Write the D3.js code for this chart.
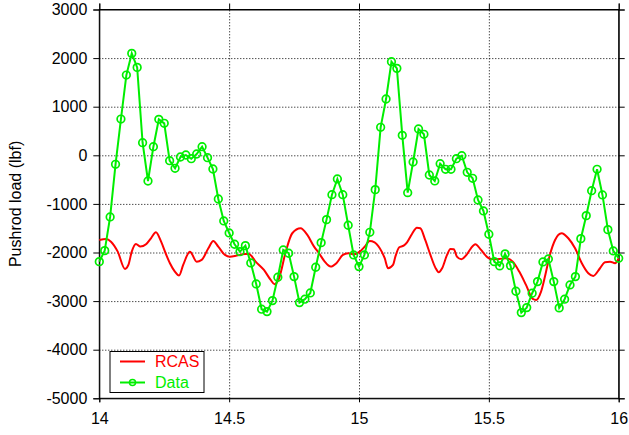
<!DOCTYPE html>
<html>
<head>
<meta charset="utf-8">
<script src="https://cdn.jsdelivr.net/npm/d3@7"></script>
<style>
  body { margin: 0; background: #fff; }
  text { font-family: "Liberation Sans", Arial, sans-serif; }
  .grid line { stroke: #000; stroke-dasharray: 1,2; stroke-width: 1; }
  .grid path { display: none; }
</style>
</head>
<body>
<div id="chart"></div>
<script>
// measured data (lbf) vs revolution
var dataX = [14.0000,14.0208,14.0417,14.0625,14.0833,14.1042,14.1250,14.1458,14.1667,14.1875,14.2083,14.2292,
  14.2500,14.2708,14.2917,14.3125,14.3333,14.3542,14.3750,14.3958,14.4167,14.4375,14.4583,14.4792,
  14.5000,14.5208,14.5417,14.5625,14.5833,14.6042,14.6250,14.6458,14.6667,14.6875,14.7083,14.7292,
  14.7500,14.7708,14.7917,14.8125,14.8333,14.8542,14.8750,14.8958,14.9167,14.9375,14.9583,14.9792,
  15.0000,15.0208,15.0417,15.0625,15.0833,15.1042,15.1250,15.1458,15.1667,15.1875,15.2083,15.2292,
  15.2500,15.2708,15.2917,15.3125,15.3333,15.3542,15.3750,15.3958,15.4167,15.4375,15.4583,15.4792,
  15.5000,15.5208,15.5417,15.5625,15.5833,15.6042,15.6250,15.6458,15.6667,15.6875,15.7083,15.7292,
  15.7500,15.7708,15.7917,15.8125,15.8333,15.8542,15.8750,15.8958,15.9167,15.9375,15.9583,15.9792,
  16.0000];
var dataY = [-2188,-1962,-1269,-185,746,1651,2097,1809,259,-529,177,740,
  658,-111,-267,-35,6,-70,27,177,-49,-282,-899,-1351,
  -1598,-1830,-1982,-1859,-2215,-2647,-3167,-3216,-2990,-2509,-1947,-2015,
  -2496,-3031,-2961,-2832,-2303,-1797,-1324,-810,-487,-810,-1439,-2050,
  -2290,-2050,-1584,-707,576,1158,1925,1789,411,-769,-138,541,
  432,-405,-528,-173,-288,-288,-70,-8,-350,-473,-919,-1145,
  -1625,-2188,-2276,-2029,-2270,-2797,-3237,-3134,-2838,-2599,-2194,-2132,
  -2599,-3140,-2961,-2667,-2496,-1715,-1242,-728,-288,-816,-1530,-1968,
  -2118];

// RCAS prediction
var rcasX = [14.000,14.026,14.045,14.071,14.099,14.112,14.125,14.141,14.158,14.180,14.199,14.218,14.238,14.257,
  14.272,14.291,14.307,14.323,14.349,14.375,14.394,14.420,14.439,14.458,14.484,14.503,14.529,14.561,
  14.576,14.602,14.634,14.660,14.675,14.692,14.718,14.743,14.775,14.801,14.827,14.846,14.868,14.891,
  14.913,14.938,14.958,14.981,15.003,15.022,15.041,15.060,15.080,15.099,15.112,15.131,15.140,15.155,
  15.172,15.185,15.204,15.223,15.236,15.255,15.275,15.294,15.307,15.320,15.339,15.352,15.365,15.377,
  15.394,15.416,15.431,15.448,15.470,15.496,15.515,15.540,15.566,15.592,15.617,15.643,15.669,15.682,
  15.701,15.716,15.735,15.755,15.780,15.806,15.832,15.858,15.883,15.902,15.928,15.947,15.967,15.986,16.000];
var rcasY = [-1742,-1721,-1777,-1982,-2338,-2256,-1982,-1824,-1879,-1830,-1707,-1583,-1777,-2036,
  -2221,-2393,-2475,-2256,-1982,-2188,-2153,-1913,-1763,-1879,-2050,-2085,-2064,-2030,
  -2030,-2188,-2359,-2564,-2653,-2530,-1982,-1604,-1501,-1639,-1879,-2015,-2188,-2290,
  -2221,-2050,-2015,-2036,-1982,-1879,-1763,-1790,-1913,-2118,-2324,-2256,-2085,-1892,
  -1859,-1790,-1618,-1489,-1501,-1742,-2050,-2311,-2406,-2324,-2050,-1927,-1933,-2085,
  -2139,-2036,-1913,-1830,-1947,-2105,-2139,-2133,-2118,-2188,-2393,-2667,-2955,-2975,
  -2804,-2496,-2050,-1742,-1604,-1707,-1913,-2221,-2427,-2482,-2324,-2200,-2188,-2221,-2118];

var xTicks = [14, 14.5, 15, 15.5, 16];
var yTicks = [-5000, -4000, -3000, -2000, -1000, 0, 1000, 2000, 3000];
var seriesNames = ["RCAS", "Data"];
var seriesColors = ["#ff0000", "#00ee00"];

function init() {
    var w = 629, h = 435;
    var left = 99.3, right = 618.7, top = 9.5, bottom = 398.3;

    var xScale = d3.scaleLinear().domain([14, 16]).range([left, right]);
    var yScale = d3.scaleLinear().domain([-5000, 3000]).range([bottom, top]);

    var svg = d3.select("#chart").append("svg")
        .attr("width", w).attr("height", h);

    // grid
    svg.append("g").attr("class", "grid")
        .attr("transform", "translate(0," + bottom + ")")
        .call(d3.axisBottom(xScale).tickValues(xTicks.slice(1, -1)).tickSize(-(bottom - top)).tickFormat(""));
    svg.append("g").attr("class", "grid")
        .attr("transform", "translate(" + left + ",0)")
        .call(d3.axisLeft(yScale).tickValues(yTicks.slice(1, -1)).tickSize(-(right - left)).tickFormat(""));

    // axes
    var xAxis = d3.axisBottom(xScale).tickValues(xTicks).tickSize(4).tickPadding(10)
        .tickFormat(function(d) { return d; });
    var yAxis = d3.axisLeft(yScale).tickValues(yTicks).tickSize(6).tickPadding(6)
        .tickFormat(function(d) { return d; });

    svg.append("g").attr("transform", "translate(0," + bottom + ")").call(xAxis)
        .call(function(g) { g.selectAll("text").attr("font-size", 16).attr("fill", "#000"); });
    svg.append("g").attr("transform", "translate(" + left + ",0)").call(yAxis)
        .call(function(g) { g.selectAll("text").attr("font-size", 16).attr("fill", "#000"); });
    svg.append("g").attr("transform", "translate(0," + top + ")")
        .call(d3.axisTop(xScale).tickValues(xTicks).tickSize(6).tickFormat(""));
    svg.append("g").attr("transform", "translate(" + right + ",0)")
        .call(d3.axisRight(yScale).tickValues(yTicks).tickSize(6).tickFormat(""));
    svg.selectAll(".domain").attr("stroke", "#000");

    svg.append("rect")
        .attr("x", left).attr("y", top)
        .attr("width", right - left).attr("height", bottom - top)
        .attr("fill", "none").attr("stroke", "#000").attr("stroke-width", 1);

    // y label
    svg.append("text")
        .attr("transform", "rotate(-90)")
        .attr("x", -(top + bottom) / 2)
        .attr("y", 21)
        .attr("text-anchor", "middle")
        .attr("font-size", 16)
        .text("Pushrod load (lbf)");

    var rcas = rcasX.map(function(x, i) { return [x, rcasY[i]]; });
    var data = dataX.map(function(x, i) { return [x, dataY[i]]; });

    var line = d3.line()
        .x(function(d) { return xScale(d[0]); })
        .y(function(d) { return yScale(d[1]); });

    svg.append("path").datum(rcas)
        .attr("d", line.curve(d3.curveMonotoneX))
        .attr("fill", "none").attr("stroke", seriesColors[0]).attr("stroke-width", 2);

    svg.append("path").datum(data)
        .attr("d", d3.line()
            .x(function(d) { return xScale(d[0]); })
            .y(function(d) { return yScale(d[1]); }))
        .attr("fill", "none").attr("stroke", seriesColors[1]).attr("stroke-width", 2);

    svg.selectAll("circle.pt").data(data).enter().append("circle")
        .attr("class", "pt")
        .attr("cx", function(d) { return xScale(d[0]); })
        .attr("cy", function(d) { return yScale(d[1]); })
        .attr("r", 3.8)
        .attr("fill", "none")
        .attr("stroke", seriesColors[1]).attr("stroke-width", 1.7);

    // legend
    var lg = svg.append("g");
    lg.append("rect").attr("x", 110).attr("y", 351.5).attr("width", 94).attr("height", 41)
        .attr("fill", "#fff").attr("stroke", "#000").attr("stroke-width", 1);
    seriesNames.forEach(function(name, i) {
        var y = 361.5 + i * 21;
        lg.append("line").attr("x1", 120).attr("x2", 145).attr("y1", y).attr("y2", y)
            .attr("stroke", seriesColors[i]).attr("stroke-width", 2);
        if (i == 1) {
            lg.append("circle").attr("cx", 132.5).attr("cy", y).attr("r", 3)
                .attr("fill", "none").attr("stroke", seriesColors[i]).attr("stroke-width", 1.5);
        }
        lg.append("text").attr("x", 155).attr("y", y).attr("dy", "0.36em")
            .attr("font-size", 16).attr("fill", seriesColors[i]).text(name);
    });
}
window.onload = init;
</script>
</body>
</html>
